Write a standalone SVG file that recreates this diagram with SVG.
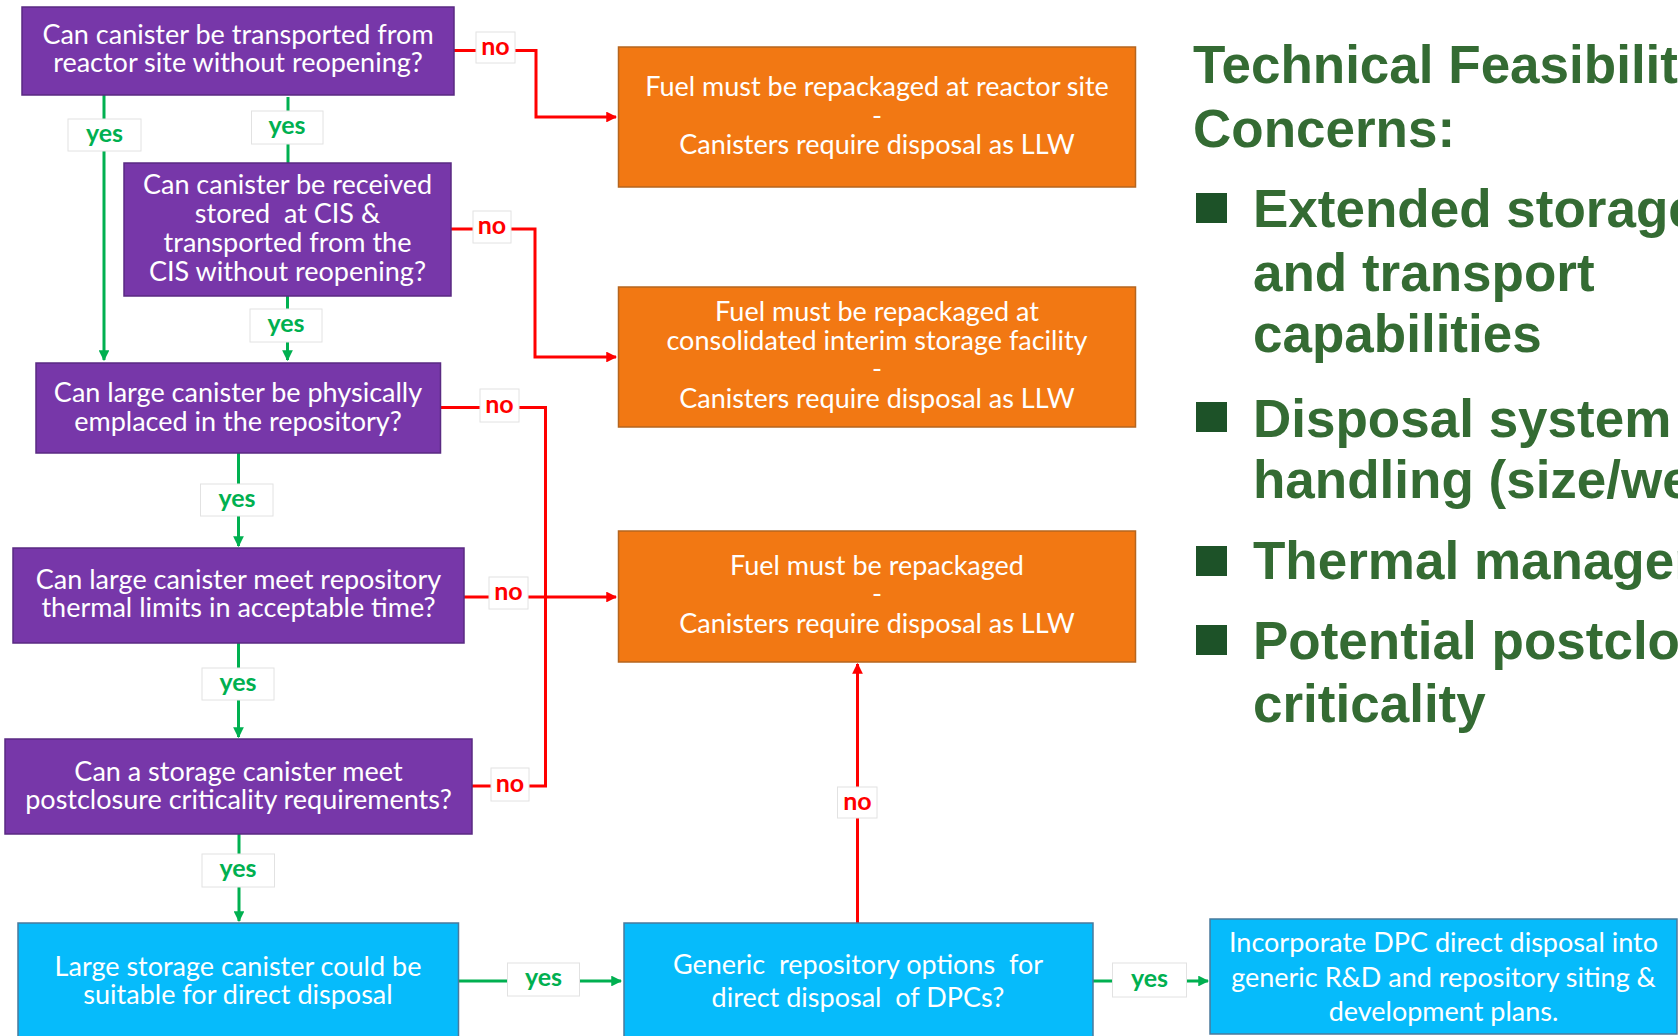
<svg xmlns="http://www.w3.org/2000/svg" width="1678" height="1036" viewBox="0 0 1678 1036">
<defs>
<style>
.q{fill:#7737A9;stroke:#5A2A82;stroke-width:1.5}
.o{fill:#F27813;stroke:#B5651F;stroke-width:1.5}
.c{fill:#06BBFB;stroke:#4A7A9C;stroke-width:1.5}
.t{font-family:Lato,"Liberation Sans",sans-serif;font-size:27px;fill:#fff;text-anchor:middle}
.lb{fill:#fff;stroke:#e2e2e2;stroke-width:1}
.ly{font-family:Lato,"Liberation Sans",sans-serif;font-weight:bold;font-size:25px;fill:#00B050;text-anchor:middle}
.ln{font-family:Lato,"Liberation Sans",sans-serif;font-weight:bold;font-size:25px;fill:#FF0000;text-anchor:middle}
.g{fill:none;stroke:#00B050;stroke-width:3}
.r{fill:none;stroke:#FF0000;stroke-width:3}
.h{font-family:"Liberation Sans",Arial,sans-serif;font-weight:bold;font-size:53px;fill:#346B33}
.bs{fill:#1D5228}
</style>
<marker id="ag" viewBox="0 0 10 10" refX="9" refY="5" markerWidth="3.6" markerHeight="3.6" orient="auto" markerUnits="strokeWidth"><path d="M0,0L10,5L0,10z" fill="#00B050"/></marker>
<marker id="ar" viewBox="0 0 10 10" refX="9" refY="5" markerWidth="3.6" markerHeight="3.6" orient="auto" markerUnits="strokeWidth"><path d="M0,0L10,5L0,10z" fill="#FF0000"/></marker>
</defs>
<rect width="1678" height="1036" fill="#fff"/>

<g id="connectors">
<path class="r" d="M454,50.5H536V117H616" marker-end="url(#ar)"/>
<path class="r" d="M451,229H535V357H616" marker-end="url(#ar)"/>
<path class="r" d="M440.5,407.5H545.5V786H472"/>
<path class="r" d="M464,597H616" marker-end="url(#ar)"/>
<path class="r" d="M857.5,923V664" marker-end="url(#ar)"/>
<path class="g" d="M104,95V360" marker-end="url(#ag)"/>
<path class="g" d="M288,97V163"/>
<path class="g" d="M287.5,296V360" marker-end="url(#ag)"/>
<path class="g" d="M238.5,453V546" marker-end="url(#ag)"/>
<path class="g" d="M238.5,643V737" marker-end="url(#ag)"/>
<path class="g" d="M239,834V921" marker-end="url(#ag)"/>
<path class="g" d="M458.5,981H621" marker-end="url(#ag)"/>
<path class="g" d="M1093,981H1208" marker-end="url(#ag)"/>
<g id="labels">
<rect class="lb" x="476" y="32" width="39" height="31"/><text class="ln" x="495.5" y="55">no</text>
<rect class="lb" x="68" y="119" width="73" height="32"/><text class="ly" x="104.5" y="142">yes</text>
<rect class="lb" x="251.5" y="111" width="71.5" height="33"/><text class="ly" x="287" y="134">yes</text>
<rect class="lb" x="473" y="211" width="38" height="32"/><text class="ln" x="492" y="234">no</text>
<rect class="lb" x="250" y="309" width="72" height="33"/><text class="ly" x="286" y="332">yes</text>
<rect class="lb" x="480" y="389" width="39" height="33"/><text class="ln" x="499.5" y="413">no</text>
<rect class="lb" x="200.5" y="484" width="72.5" height="32"/><text class="ly" x="237" y="507">yes</text>
<rect class="lb" x="489" y="577" width="39" height="32"/><text class="ln" x="508.5" y="600">no</text>
<rect class="lb" x="202" y="668" width="72" height="32"/><text class="ly" x="238" y="691">yes</text>
<rect class="lb" x="491" y="768" width="38" height="33"/><text class="ln" x="510" y="792">no</text>
<rect class="lb" x="202" y="854" width="72.5" height="33"/><text class="ly" x="238" y="877">yes</text>
<rect class="lb" x="507.5" y="963" width="72" height="33"/><text class="ly" x="543.5" y="986">yes</text>
<rect class="lb" x="837.5" y="787" width="39.5" height="31"/><text class="ln" x="857.4" y="810">no</text>
<rect class="lb" x="1112.5" y="963" width="74" height="34"/><text class="ly" x="1149.5" y="987">yes</text>
</g>
</g>

<g id="q1"><rect class="q" x="22" y="7" width="432" height="88"/>
<text class="t" x="238" y="44">Can canister be transported from</text>
<text class="t" x="238" y="72">reactor site without reopening?</text></g>

<g id="q2"><rect class="q" x="124" y="163" width="327" height="133"/>
<text class="t" x="287.5" y="194">Can canister be received</text>
<text class="t" x="287.5" y="223" xml:space="preserve">stored  at CIS &amp;</text>
<text class="t" x="287.5" y="252">transported from the</text>
<text class="t" x="287.5" y="281">CIS without reopening?</text></g>

<g id="q3"><rect class="q" x="36" y="363" width="404.5" height="90"/>
<text class="t" x="238" y="402">Can large canister be physically</text>
<text class="t" x="238" y="431">emplaced in the repository?</text></g>

<g id="q4"><rect class="q" x="13" y="548" width="451" height="95"/>
<text class="t" x="238.5" y="589">Can large canister meet repository</text>
<text class="t" x="238.5" y="617">thermal limits in acceptable time?</text></g>

<g id="q5"><rect class="q" x="5" y="739" width="467" height="95"/>
<text class="t" x="238.5" y="781">Can a storage canister meet</text>
<text class="t" x="238.5" y="809">postclosure criticality requirements?</text></g>

<g id="r1"><rect class="o" x="618.5" y="47" width="517" height="140"/>
<text class="t" x="877" y="96">Fuel must be repackaged at reactor site</text>
<text class="t" x="877" y="125">-</text>
<text class="t" x="877" y="154">Canisters require disposal as LLW</text></g>

<g id="r2"><rect class="o" x="618.5" y="287" width="517" height="140"/>
<text class="t" x="877" y="321">Fuel must be repackaged at</text>
<text class="t" x="877" y="350">consolidated interim storage facility</text>
<text class="t" x="877" y="378">-</text>
<text class="t" x="877" y="408">Canisters require disposal as LLW</text></g>

<g id="r3"><rect class="o" x="618.5" y="531" width="517" height="131"/>
<text class="t" x="877" y="575">Fuel must be repackaged</text>
<text class="t" x="877" y="603">-</text>
<text class="t" x="877" y="633">Canisters require disposal as LLW</text></g>

<g id="d1"><rect class="c" x="18" y="923" width="440.5" height="130"/>
<text class="t" x="238" y="976">Large storage canister could be</text>
<text class="t" x="238" y="1004">suitable for direct disposal</text></g>

<g id="d2"><rect class="c" x="624" y="923" width="469" height="130"/>
<text class="t" x="858" y="974" xml:space="preserve">Generic  repository options  for</text>
<text class="t" x="858" y="1007" xml:space="preserve">direct disposal  of DPCs?</text></g>

<g id="d3"><rect class="c" x="1210" y="919" width="467" height="115"/>
<text class="t" x="1443.5" y="952">Incorporate DPC direct disposal into</text>
<text class="t" x="1443.5" y="987">generic R&amp;D and repository siting &amp;</text>
<text class="t" x="1443.5" y="1021">development plans.</text></g>

<g id="concerns">
<text class="h" x="1193" y="83">Technical Feasibility</text>
<text class="h" x="1193" y="147">Concerns:</text>
<rect class="bs" x="1196" y="193" width="31" height="30"/>
<text class="h" x="1253" y="227">Extended storage</text>
<text class="h" x="1253" y="291">and transport</text>
<text class="h" x="1253" y="352">capabilities</text>
<rect class="bs" x="1196" y="402" width="31" height="30"/>
<text class="h" x="1253" y="437">Disposal system</text>
<text class="h" x="1253" y="498">handling (size/weight)</text>
<rect class="bs" x="1196" y="546" width="31" height="30"/>
<text class="h" x="1253" y="579">Thermal management</text>
<rect class="bs" x="1196" y="625" width="31" height="30"/>
<text class="h" x="1253" y="659">Potential postclosure</text>
<text class="h" x="1253" y="722">criticality</text>
</g>
</svg>
